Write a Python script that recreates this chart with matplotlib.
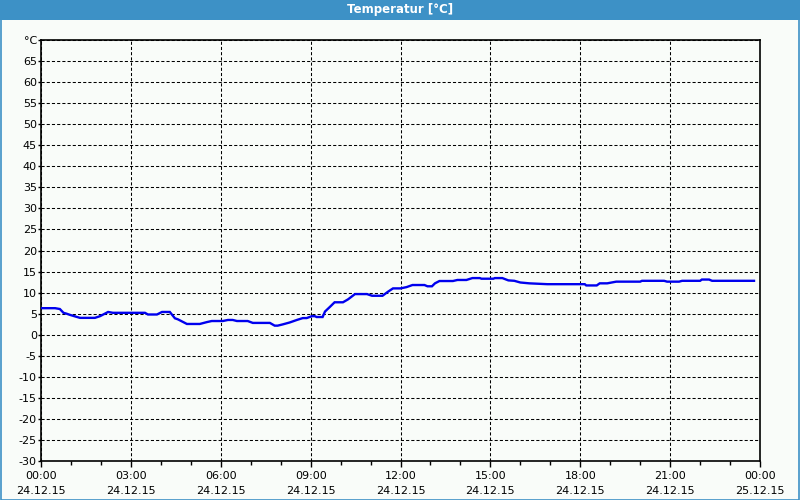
import matplotlib
matplotlib.use("Agg")
import matplotlib.pyplot as plt
from matplotlib.patches import Rectangle
from matplotlib.ticker import MultipleLocator, FixedLocator

# Data: hours since 24.12.15 00:00, temperature in °C
hours = [0.0, 0.47, 0.63, 0.75, 0.85, 0.97, 1.3, 1.8, 1.97, 2.24, 2.4, 3.47, 3.57,
         3.87, 4.04, 4.3, 4.47, 4.57, 4.87, 5.3, 5.54, 5.7, 6.07, 6.24, 6.4, 6.54,
         6.9, 7.07, 7.64, 7.8, 7.9, 8.07, 8.3, 8.54, 8.74, 8.87, 9.04, 9.14, 9.2,
         9.4, 9.48, 9.65, 9.8, 10.08, 10.25, 10.48, 10.88, 11.05, 11.4, 11.58,
         11.75, 12.0, 12.2, 12.4, 12.8, 12.9, 13.05, 13.15, 13.3, 13.75, 13.9,
         14.2, 14.4, 14.65, 14.7, 15.1, 15.15, 15.4, 15.6, 15.8, 16.0, 16.3, 16.9,
         17.3, 17.4, 18.15, 18.2, 18.55, 18.65, 18.9, 19.2, 20.0, 20.06, 20.8,
         20.9, 21.3, 21.4, 22.0, 22.06, 22.3, 22.4, 23.8]
temps = [6.3, 6.3, 6.1, 5.2, 5.0, 4.7, 4.0, 4.0, 4.4, 5.4, 5.2, 5.2, 4.8,
         4.8, 5.4, 5.4, 3.9, 3.65, 2.55, 2.55, 3.0, 3.25, 3.25, 3.5, 3.5, 3.25,
         3.25, 2.8, 2.8, 2.15, 2.15, 2.45, 2.9, 3.5, 3.95, 3.95, 4.4, 4.4, 4.2,
         4.2, 5.5, 6.65, 7.7, 7.7, 8.4, 9.65, 9.65, 9.25, 9.25, 10.2,
         11.0, 11.0, 11.3, 11.8, 11.8, 11.5, 11.5, 12.2, 12.75, 12.75, 13.0,
         13.0, 13.45, 13.45, 13.3, 13.3, 13.45, 13.45, 12.9, 12.8, 12.4, 12.2, 12.0,
         12.0, 12.0, 12.0, 11.7, 11.7, 12.2, 12.2, 12.6, 12.6, 12.8, 12.8,
         12.6, 12.6, 12.8, 12.8, 13.1, 13.1, 12.8, 12.8]

x_tick_times = ["00:00", "03:00", "06:00", "09:00", "12:00", "15:00", "18:00", "21:00", "00:00"]
x_tick_dates = ["24.12.15"] * 8 + ["25.12.15"]
y_ticks = list(range(-30, 70, 5))
title = "Temperatur [°C]"
unit = "°C"

bg = "#f9fcf9"
blue = "#3d91c6"

fig = plt.figure(figsize=(8, 5), dpi=100, facecolor=bg)

# title bar and outer border
fig.patches.append(Rectangle((0, 1 - 20 / 500), 1, 20 / 500, transform=fig.transFigure,
                             facecolor=blue, edgecolor="none", zorder=0))
fig.patches.append(Rectangle((0.5 / 800, 0.5 / 500), 1 - 1.5 / 800, 1 - 1.5 / 500,
                             transform=fig.transFigure, facecolor="none",
                             edgecolor=blue, linewidth=1.2, zorder=1))
fig.text(0.5, 1 - 10 / 500, title, color="white", fontsize=8.5, fontweight="bold",
         ha="center", va="center")

ax = fig.add_axes([41 / 800, 39 / 500, 719 / 800, 421 / 500])
ax.set_facecolor(bg)
ax.plot(hours, temps, color="#0000ee", linewidth=1.7, solid_joinstyle="miter", zorder=3)

ax.set_xlim(0, 24)
ax.set_ylim(-30, 70)
ax.xaxis.set_major_locator(FixedLocator([0, 3, 6, 9, 12, 15, 18, 21, 24]))
ax.xaxis.set_minor_locator(MultipleLocator(1))
ax.set_xticklabels([f"{t}\n{d}" for t, d in zip(x_tick_times, x_tick_dates)])
ax.set_yticks(y_ticks + [70])
ax.set_yticklabels([str(v) for v in y_ticks] + [unit])

for s in ax.spines.values():
    s.set_color("black")
    s.set_linewidth(1.2)

ax.tick_params(axis="x", which="major", direction="out", length=4, width=1,
               labelsize=8, pad=3, colors="black")
ax.tick_params(axis="x", which="minor", direction="out", length=3, width=1)
ax.tick_params(axis="y", which="major", direction="out", length=2, width=1,
               labelsize=8, pad=1, colors="black")
for lab in ax.get_xticklabels():
    lab.set_linespacing(1.7)

ax.grid(True, which="major", color="black", linestyle=(0, (3, 2)), linewidth=0.75)
ax.set_axisbelow(True)

fig.savefig("out.png", dpi=100, facecolor=bg)
